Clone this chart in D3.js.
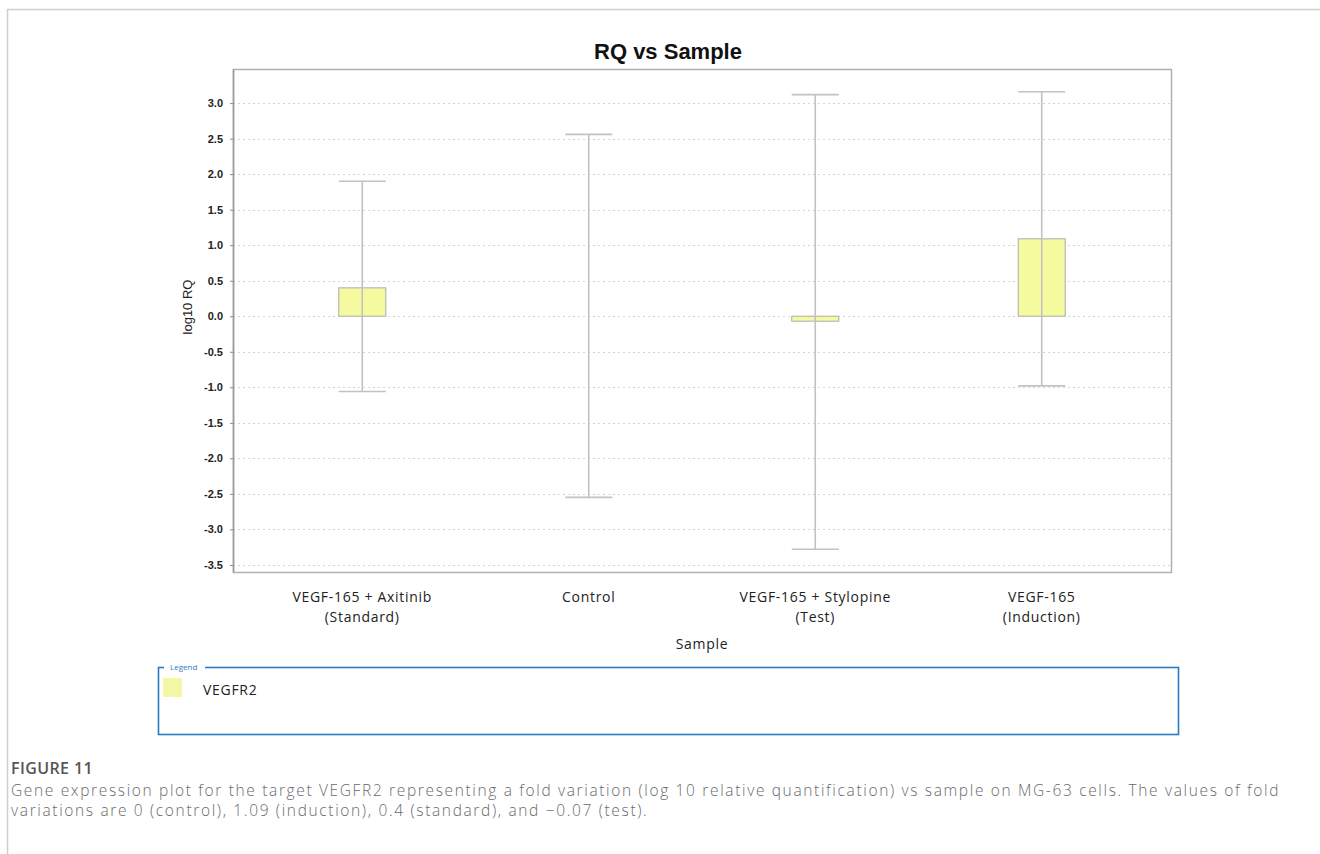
<!DOCTYPE html>
<html>
<head>
<meta charset="utf-8">
<script src="https://cdn.jsdelivr.net/npm/d3@7"></script>
<style>
  body { margin: 0; background: #fff; }
  .tick text { font-family: "Liberation Sans", Arial, sans-serif; font-size: 11px; font-weight: bold; fill: #222; }
  .x-label { font-family: "Open Sans", sans-serif; font-size: 14px; letter-spacing: 0.7px; fill: #222; }
  .caption { font-family: "Open Sans", sans-serif; fill: #6a6a6a; }
</style>
</head>
<body>
<div id="wrapper"></div>
<script>
// data
const samples = ["Axitinib", "Control", "Stylopine", "Induction"];
const sampleLabels = [
  ["VEGF-165 + Axitinib", "(Standard)"],
  ["Control"],
  ["VEGF-165 + Stylopine", "(Test)"],
  ["VEGF-165", "(Induction)"],
];
const log10RQ = [0.4, 0, -0.07, 1.09];
const rqMax = [1.9, 2.56, 3.12, 3.16];
const rqMin = [-1.06, -2.55, -3.28, -0.98];
const yTicks = [-3.5, -3.0, -2.5, -2.0, -1.5, -1.0, -0.5, 0.0, 0.5, 1.0, 1.5, 2.0, 2.5, 3.0];
const captionLines = [
  "Gene expression plot for the target VEGFR2 representing a fold variation (log 10 relative quantification) vs sample on MG-63 cells. The values of fold",
  "variations are 0 (control), 1.09 (induction), 0.4 (standard), and \u22120.07 (test).",
];

const rows = samples.map((s, i) => ({
  sample: s,
  value: log10RQ[i],
  hi: rqMax[i],
  lo: rqMin[i],
  label: sampleLabels[i],
}));

// dimensions
const width = 1320;
const height = 854;
const frame = { left: 233, right: 1171, top: 69, bottom: 572 };
const barWidth = 47;

const svg = d3.select("#wrapper")
  .append("svg")
  .attr("width", width)
  .attr("height", height);

// outer figure border
svg.append("path")
  .attr("d", `M7.5,${height} V9.5 H${width}`)
  .attr("fill", "none")
  .attr("stroke", "#cfcfcf")
  .attr("stroke-width", 1.5);

// scales
const xScale = d3.scaleBand()
  .domain(samples)
  .range([249, 1155]);

const yScale = d3.scaleLinear()
  .domain([-3.6, 3.48])
  .range([frame.bottom, frame.top]);

// grid lines
svg.append("g")
  .selectAll("line")
  .data(yTicks)
  .join("line")
  .attr("x1", frame.left)
  .attr("x2", frame.right)
  .attr("y1", (d) => Math.round(yScale(d)) + 0.5)
  .attr("y2", (d) => Math.round(yScale(d)) + 0.5)
  .attr("stroke", "#d4d4d4")
  .attr("stroke-dasharray", "2,3");

// frame
svg.append("rect")
  .attr("x", frame.left + 0.5)
  .attr("y", frame.top + 0.5)
  .attr("width", frame.right - frame.left)
  .attr("height", frame.bottom - frame.top)
  .attr("fill", "none")
  .attr("stroke", "#b0b0b0")
  .attr("stroke-width", 1.5);

// y axis
const yAxis = d3.axisLeft(yScale)
  .tickValues(yTicks)
  .tickFormat((d) => d.toFixed(1))
  .tickSizeInner(3)
  .tickSizeOuter(0)
  .tickPadding(7);

const yAxisGroup = svg.append("g")
  .attr("transform", `translate(${frame.left},0)`)
  .call(yAxis);
yAxisGroup.select(".domain").attr("stroke", "#999").attr("stroke-width", 1.5);
yAxisGroup.selectAll(".tick line").attr("stroke", "#888");

// bars
const cx = (d) => xScale(d.sample) + xScale.bandwidth() / 2;

svg.append("g")
  .selectAll("rect")
  .data(rows)
  .join("rect")
  .attr("x", (d) => cx(d) - barWidth / 2)
  .attr("y", (d) => yScale(Math.max(0, d.value)))
  .attr("width", barWidth)
  .attr("height", (d) => Math.abs(yScale(d.value) - yScale(0)))
  .attr("fill", "#f6fa9e")
  .attr("stroke", "#b8b8b8")
  .attr("stroke-width", 1.2);

// error bars
const errors = svg.append("g")
  .attr("stroke", "#c2c2c2")
  .attr("stroke-width", 1.6)
  .selectAll("g")
  .data(rows)
  .join("g");

errors.append("line")
  .attr("x1", cx)
  .attr("x2", cx)
  .attr("y1", (d) => yScale(d.hi))
  .attr("y2", (d) => yScale(d.lo));

errors.append("line")
  .attr("x1", (d) => cx(d) - barWidth / 2)
  .attr("x2", (d) => cx(d) + barWidth / 2)
  .attr("y1", (d) => yScale(d.hi))
  .attr("y2", (d) => yScale(d.hi));

errors.append("line")
  .attr("x1", (d) => cx(d) - barWidth / 2)
  .attr("x2", (d) => cx(d) + barWidth / 2)
  .attr("y1", (d) => yScale(d.lo))
  .attr("y2", (d) => yScale(d.lo));

// x labels, one text per line
svg.append("g")
  .selectAll("text")
  .data(rows.flatMap((d) => d.label.map((line, i) => ({ line, i, x: cx(d) }))))
  .join("text")
  .attr("class", "x-label")
  .attr("text-anchor", "middle")
  .attr("x", (d) => d.x)
  .attr("y", (d) => 602 + d.i * 20)
  .text((d) => d.line);

// titles
svg.append("text")
  .attr("x", 668)
  .attr("y", 59)
  .attr("text-anchor", "middle")
  .style("font-family", "'Liberation Sans', Arial, sans-serif")
  .style("font-size", "22px")
  .style("font-weight", "bold")
  .style("fill", "#111")
  .text("RQ vs Sample");

svg.append("text")
  .attr("transform", `translate(192,307) rotate(-90)`)
  .attr("text-anchor", "middle")
  .style("font-family", "'Liberation Sans', Arial, sans-serif")
  .style("font-size", "13px")
  .style("fill", "#222")
  .text("log10 RQ");

svg.append("text")
  .attr("class", "x-label")
  .attr("x", 702)
  .attr("y", 649)
  .attr("text-anchor", "middle")
  .text("Sample");

// legend
const legend = svg.append("g");
legend.append("rect")
  .attr("x", 158.5)
  .attr("y", 667.5)
  .attr("width", 1020)
  .attr("height", 67)
  .attr("fill", "none")
  .attr("stroke", "#2a7bc4")
  .attr("stroke-width", 1.6);
legend.append("rect")
  .attr("x", 164)
  .attr("y", 662)
  .attr("width", 41)
  .attr("height", 10)
  .attr("fill", "#fff");
legend.append("text")
  .attr("x", 170)
  .attr("y", 670)
  .style("font-family", "'Open Sans', sans-serif")
  .style("font-size", "8px")
  .style("fill", "#2a7bc4")
  .text("Legend");
legend.append("rect")
  .attr("x", 163)
  .attr("y", 678)
  .attr("width", 19)
  .attr("height", 19)
  .attr("fill", "#f3f7a6");
legend.append("text")
  .attr("class", "x-label")
  .attr("x", 203)
  .attr("y", 695)
  .text("VEGFR2");

// caption
svg.append("text")
  .attr("class", "caption")
  .attr("x", 11)
  .attr("y", 774)
  .style("font-size", "16px")
  .style("font-weight", 600)
  .style("letter-spacing", "0.4px")
  .style("fill", "#555")
  .text("FIGURE 11");

svg.append("g")
  .selectAll("text")
  .data(captionLines)
  .join("text")
  .attr("class", "caption")
  .attr("x", 11)
  .attr("y", (d, i) => 796 + i * 20)
  .style("font-size", "15.5px")
  .style("font-weight", 300)
  .style("letter-spacing", "1.65px")
  .text((d) => d);
</script>
</body>
</html>
